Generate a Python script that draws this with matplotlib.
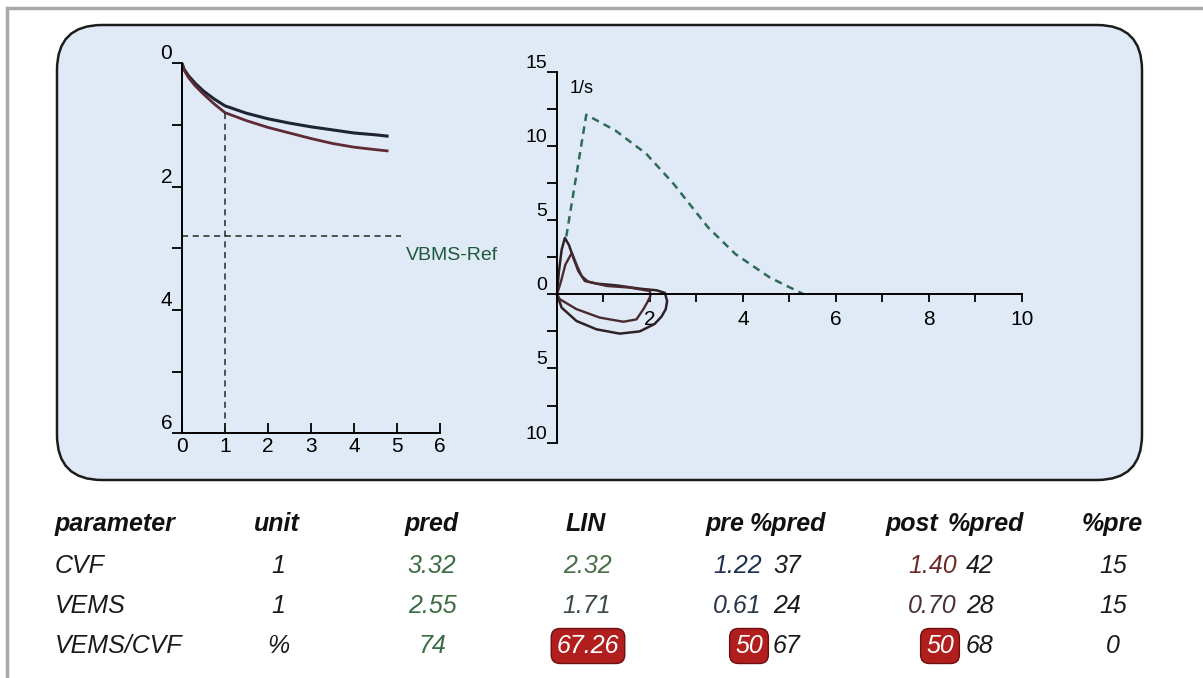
import matplotlib.pyplot as plt
import numpy as np
from matplotlib.patches import FancyBboxPatch
from matplotlib.ticker import FixedLocator, FuncFormatter

NARROW = ['Liberation Sans Narrow', 'Liberation Sans', 'DejaVu Sans']
plt.rcParams['font.family'] = NARROW

# volume-time curves (left chart), volume in l against time in s
vt_time = [0, 0.05, 0.15, 0.3, 0.5, 0.75, 1, 1.5, 2, 2.5, 3, 3.5, 4, 4.5, 4.77]
vt_pre = [0, 0.1, 0.2, 0.32, 0.45, 0.58, 0.69, 0.81, 0.9, 0.97, 1.03, 1.08, 1.13, 1.16, 1.18]
vt_post = [0, 0.11, 0.23, 0.36, 0.5, 0.66, 0.8, 0.93, 1.04, 1.13, 1.22, 1.3, 1.36, 1.4, 1.42]
ref_time = 1.0
vems_ref = 2.8
ref_time_end = 5.1

# flow-volume loops (right chart)
pre_vol = [0, 0.08, 0.18, 0.32, 0.42, 0.53, 0.67, 1.07, 1.57, 2.0, 2.01, 1.95, 1.86,
           1.71, 1.43, 0.92, 0.42, 0.06, 0]
pre_flow = [0, 0.8, 2.0, 2.8, 2.0, 1.23, 0.85, 0.56, 0.45, 0.22, -0.11, -0.5, -1.0,
            -1.69, -1.85, -1.57, -1.0, -0.33, 0]
post_vol = [0, 0.04, 0.1, 0.17, 0.26, 0.35, 0.46, 0.6, 0.85, 1.28, 1.78, 2.14, 2.32,
            2.37, 2.34, 2.25, 2.1, 1.78, 1.35, 0.85, 0.42, 0.1, 0]
post_flow = [0, 1.5, 3.0, 3.8, 3.3, 2.47, 1.57, 0.9, 0.72, 0.6, 0.38, 0.27, 0.1,
             -0.45, -1.0, -1.5, -2.0, -2.5, -2.65, -2.36, -1.8, -0.9, 0]
ref_vol = [0.2, 0.63, 1.25, 1.92, 2.51, 3.25, 3.84, 4.58, 5.31]
ref_flow = [3.9, 12.1, 11.05, 9.47, 7.44, 4.51, 2.71, 1.13, 0.0]

# table
headers = ['parameter', 'unit', 'pred', 'LIN', 'pre', '%pred', 'post', '%pred', '%pre']
params = ['CVF', 'VEMS', 'VEMS/CVF']
units = ['1', '1', '%']
pred = ['3.32', '2.55', '74']
lin = ['2.32', '1.71', '67.26']
pre = ['1.22', '0.61', '50']
pre_pct = ['37', '24', '67']
post = ['1.40', '0.70', '50']
post_pct = ['42', '28', '68']
pct_pre = ['15', '15', '0']
flagged = [False, False, True]

W, H = 1203, 678
fig = plt.figure(figsize=(W / 100, H / 100), dpi=100)

# background layer in pixel coordinates
bg = fig.add_axes([0, 0, 1, 1])
bg.set_xlim(0, W)
bg.set_ylim(H, 0)
bg.axis('off')
bg.plot([7, 7, W], [H, 8, 8], color='#a9a9a9', lw=2.5, solid_joinstyle='miter')
panel = FancyBboxPatch((57, 25), 1085, 455, boxstyle='round,pad=0,rounding_size=45',
                       fc='#dfeaf6', ec='#1c1c1c', lw=1.8)
bg.add_patch(panel)


def px_axes(x0, y0, x1, y1):
    return fig.add_axes([x0 / W, 1 - y1 / H, (x1 - x0) / W, (y1 - y0) / H])


# left chart: volume vs time
ax1 = px_axes(182, 63.3, 440, 433.3)
ax1.patch.set_alpha(0)
ax1.set_xlim(0, 6)
ax1.set_ylim(6, 0)
for s in ['top', 'right']:
    ax1.spines[s].set_visible(False)
for s in ['left', 'bottom']:
    ax1.spines[s].set_linewidth(1.4)
ax1.plot(vt_time, vt_pre, color='#1f2333', lw=2.2)
ax1.plot(vt_time, vt_post, color='#5e2a33', lw=2.0)
ax1.plot([ref_time, ref_time], [np.interp(ref_time, vt_time, vt_post), 6],
         color='#1f2a24', lw=1.1, ls=(0, (4, 3)))
ax1.plot([0, ref_time_end], [vems_ref, vems_ref], color='#1f2a24', lw=1.1, ls=(0, (4, 3)))
ax1.text(5.2, vems_ref + 0.18, 'VBMS-Ref', color='#1d5a3c', fontsize=14, va='top')
ax1.yaxis.set_major_locator(FixedLocator([0, 2, 4, 6]))
ax1.yaxis.set_minor_locator(FixedLocator([1, 3, 5]))
ax1.xaxis.set_major_locator(FixedLocator(range(7)))
ax1.tick_params(axis='y', which='both', direction='out', length=7, width=1.3, pad=0,
                labelsize=15)
ax1.tick_params(axis='x', direction='in', length=7, width=1.3, pad=3, labelsize=15)
for lab in ax1.get_yticklabels():
    lab.set_va('bottom')

# right chart: flow vs volume
ax2 = px_axes(557, 71.7, 1021.7, 442.7)
ax2.patch.set_alpha(0)
ax2.set_xlim(0, 10)
ax2.set_ylim(-10, 15)
for s in ['top', 'right']:
    ax2.spines[s].set_visible(False)
ax2.spines['bottom'].set_position(('data', 0))
for s in ['left', 'bottom']:
    ax2.spines[s].set_linewidth(1.4)
ax2.plot(ref_vol, ref_flow, color='#2f6b55', lw=1.8, ls=(0, (3, 2.2)))
ax2.plot(post_vol, post_flow, color='#2e2226', lw=1.8, clip_on=False)
ax2.plot(pre_vol, pre_flow, color='#4a2a30', lw=1.7, clip_on=False)
ax2.text(0.27, 13.9, '1/s', fontsize=13, va='center')
ax2.yaxis.set_major_locator(FixedLocator([-10, -5, 0, 5, 10, 15]))
ax2.yaxis.set_minor_locator(FixedLocator([-7.5, -2.5, 2.5, 7.5, 12.5]))
ax2.yaxis.set_major_formatter(FuncFormatter(lambda v, p: f'{abs(v):.0f}'))
ax2.xaxis.set_major_locator(FixedLocator([2, 4, 6, 8, 10]))
ax2.xaxis.set_minor_locator(FixedLocator([1, 3, 5, 7, 9]))
ax2.tick_params(axis='y', which='both', direction='out', length=7, width=1.3, pad=0,
                labelsize=14)
ax2.tick_params(axis='x', which='both', direction='out', length=6, width=1.3, pad=5,
                labelsize=15)
for lab in ax2.get_yticklabels():
    lab.set_va('bottom')

# table under the panel
head_y = 524
row_y = [566, 606, 646]
head_x = [55, 277, 432, 586, 744, 750, 938, 948, 1112]
head_ha = ['left', 'center', 'center', 'center', 'right', 'left', 'right', 'left', 'center']
for x, ha, txt in zip(head_x, head_ha, headers):
    bg.text(x, head_y, txt, fontsize=18, fontweight='bold', style='italic',
            ha=ha, va='center', color='#111111')

box = dict(boxstyle='round,pad=0.22,rounding_size=0.35', fc='#b01e1e', ec='#6e1010', lw=1)
cell = dict(fontsize=18, style='italic', va='center')
dark = '#1a1a1a'
pred_c = '#3d6b44'
lin_c = ['#4a6e4a', '#3a4a40']
pre_c = ['#1f3050', '#2a3448']
post_c = ['#6a2a2a', '#4a3232']
for i, y in enumerate(row_y):
    bg.text(55, y, params[i], ha='left', color=dark, **cell)
    bg.text(278, y, units[i], ha='center', color=dark, **cell)
    bg.text(432, y, pred[i], ha='center', color=pred_c, **cell)
    if flagged[i]:
        bg.text(588, y, lin[i], ha='center', color='white', bbox=box, **cell)
        bg.text(749, y, pre[i], ha='center', color='white', bbox=box, **cell)
        bg.text(940, y, post[i], ha='center', color='white', bbox=box, **cell)
    else:
        bg.text(587, y, lin[i], ha='center', color=lin_c[i], **cell)
        bg.text(762, y, pre[i], ha='right', color=pre_c[i], **cell)
        bg.text(957, y, post[i], ha='right', color=post_c[i], **cell)
    bg.text(773, y, pre_pct[i], ha='left', color=dark, **cell)
    bg.text(966, y, post_pct[i], ha='left', color=dark, **cell)
    bg.text(1113, y, pct_pre[i], ha='center', color=dark, **cell)

fig.savefig('out.png', dpi=100)
